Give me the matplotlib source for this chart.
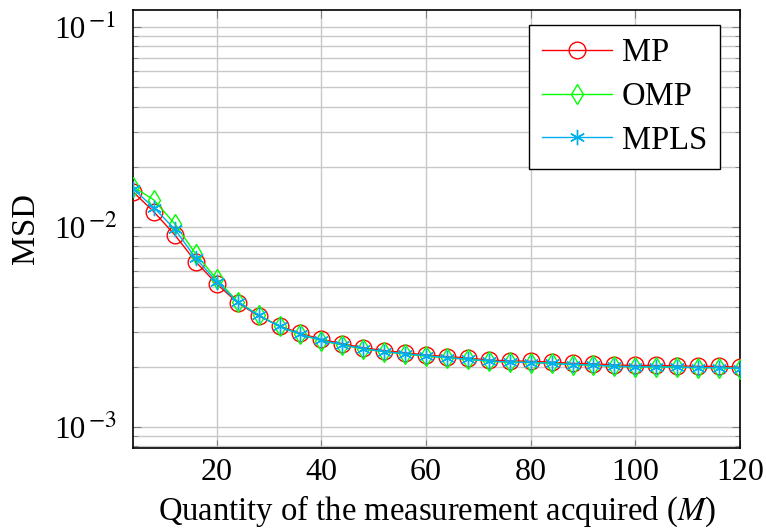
import matplotlib
matplotlib.use("Agg")
import matplotlib.pyplot as plt
from matplotlib.ticker import LogLocator, NullFormatter, FixedLocator

plt.rcParams['font.family'] = ['Liberation Serif', 'DejaVu Serif']
plt.rcParams['mathtext.fontset'] = 'stix'

M = [4, 8, 12, 16, 20, 24, 28, 32, 36, 40, 44, 48, 52, 56, 60, 64, 68, 72, 76,
     80, 84, 88, 92, 96, 100, 104, 108, 112, 116, 120]

mp = [0.0150, 0.0119, 0.00912, 0.00670, 0.00519, 0.00418, 0.00359, 0.00320,
      0.00294, 0.00274, 0.00261, 0.00249, 0.00241, 0.00235, 0.00229, 0.00225,
      0.00221, 0.00216, 0.00214, 0.00213, 0.00211, 0.00208, 0.00207, 0.00204,
      0.00203, 0.00203, 0.00202, 0.00201, 0.00201, 0.00199]

omp = [0.0159, 0.01365, 0.01035, 0.00733, 0.00548, 0.00423, 0.00363, 0.00318,
       0.00290, 0.00270, 0.00257, 0.00245, 0.00238, 0.00232, 0.00226, 0.00222,
       0.00218, 0.00213, 0.00211, 0.00210, 0.00208, 0.00205, 0.00204, 0.00201,
       0.00200, 0.00200, 0.00199, 0.00198, 0.00198, 0.00196]

mpls = [0.0155, 0.01249, 0.00974, 0.00697, 0.00533, 0.00421, 0.00361, 0.00318,
        0.00291, 0.00271, 0.00258, 0.00246, 0.00238, 0.00232, 0.00227, 0.00222,
        0.00218, 0.00214, 0.00211, 0.00210, 0.00208, 0.00205, 0.00204, 0.00201,
        0.00200, 0.00200, 0.00199, 0.00198, 0.00198, 0.00196]

x_ticks = [20, 40, 60, 80, 100, 120]
y_major = [1e-3, 1e-2, 1e-1]
y_exponents = ['$-3$', '$-2$', '$-1$']

fig = plt.figure(figsize=(7.66, 5.31), dpi=100)
ax = fig.add_axes([133/766, 1-448/531, (740-133)/766, (448-10)/531])

ax.plot(M, mp, color='#FF0000', lw=1.0, marker='o', ms=12, mfc='none',
        mec='#FF0000', mew=1.0, label='MP', zorder=3)
ax.plot(M, omp, color='#00FF00', lw=1.0, marker='d', ms=10, mfc='none',
        mec='#00FF00', mew=1.0, label='OMP', zorder=4)
ax.plot(M, mpls, color='#00AEEF', lw=1.0, marker=(6, 2, 0), ms=11,
        mec='#00AEEF', mew=1.0, label='MPLS', zorder=5)

ax.set_yscale('log')
ax.set_xlim(4, 120)
ax.set_ylim(7.85e-4, 0.1216)
ax.set_xticks(x_ticks)
ax.yaxis.set_major_locator(FixedLocator(y_major))
ax.yaxis.set_minor_locator(LogLocator(base=10, subs=range(2, 10), numticks=100))
ax.yaxis.set_minor_formatter(NullFormatter())
ax.set_yticklabels([''] * len(y_major))

# y tick labels drawn as 10 with a TeX-like large superscript
ytr = ax.get_yaxis_transform()
for v, e in zip(y_major, y_exponents):
    ax.annotate('10', xy=(0, v), xycoords=ytr, xytext=(-34, -2.2),
                textcoords='offset points', ha='right', va='center',
                fontsize=22.5, annotation_clip=False)
    ax.annotate(e, xy=(0, v), xycoords=ytr, xytext=(-32.5, 3.8),
                textcoords='offset points', ha='left', va='center',
                fontsize=17, annotation_clip=False)

ax.grid(True, which='major', color='#C8C8C8', lw=1.0)
ax.grid(True, which='minor', axis='y', color='#C8C8C8', lw=1.0)
ax.set_axisbelow(True)

ax.tick_params(which='both', direction='in', top=True, right=True, labelsize=23,
               color='#808080')
ax.tick_params(which='major', length=6, pad=7)
ax.tick_params(which='minor', length=3.5)
for s in ax.spines.values():
    s.set_linewidth(1.2)

ax.set_xlabel('Quantity of the measurement acquired ($M$)', fontsize=23.5, labelpad=5)
ax.set_ylabel('MSD', fontsize=23.5)
ax.yaxis.set_label_coords(-0.152, 0.5)

leg = ax.legend(loc='upper right', bbox_to_anchor=(0.967, 0.966),
                fontsize=23.5, frameon=True, fancybox=False,
                edgecolor='black', framealpha=1, handlelength=2.15,
                borderaxespad=0.0, labelspacing=0.4, borderpad=0.4,
                handletextpad=0.3)
leg.get_frame().set_linewidth(1.0)

fig.savefig('out.png', dpi=100)
